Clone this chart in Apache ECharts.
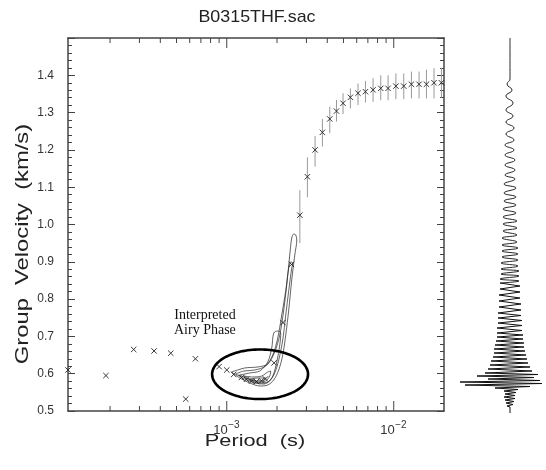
<!DOCTYPE html>
<html><head><meta charset="utf-8">
<script src="https://cdn.jsdelivr.net/npm/echarts@6/dist/echarts.min.js"></script>
<style>html,body{margin:0;padding:0;background:#fff}#c{width:546px;height:470px}</style>
</head><body><div id="c"></div>
<script>
// ---------- text ----------
const titleText = 'B0315THF.sac';
const xAxisName = 'Period  (s)';
const yAxisName = 'Group  Velocity  (km/s)';
const airyLabel = 'Interpreted\nAiry Phase';

// ---------- axes ----------
const periodMin = 1.12e-4, periodMax = 0.02;
const velMin = 0.5, velMax = 1.5, velStep = 0.1;
const xMajorTicks = [1e-3, 1e-2];
const xMajorExponents = ['\u22123', '\u22122'];
const xMinorTicks = [2e-4,3e-4,4e-4,5e-4,6e-4,7e-4,8e-4,9e-4,2e-3,3e-3,4e-3,5e-3,6e-3,7e-3,8e-3,9e-3];

// ---------- dispersion picks ----------
const periods = [1.12e-4,1.89e-4,2.77e-4,3.67e-4,4.62e-4,5.68e-4,6.49e-4,9.0e-4,1.0e-3,1.1e-3,
  1.224e-3,1.312e-3,1.406e-3,1.506e-3,1.614e-3,1.705e-3,1.92e-3,2.17e-3,2.44e-3,2.74e-3,
  3.04e-3,3.38e-3,3.74e-3,4.14e-3,4.54e-3,4.97e-3,5.5e-3,6.11e-3,6.77e-3,7.52e-3,
  8.36e-3,9.25e-3,1.03e-2,1.148e-2,1.276e-2,1.418e-2,1.57e-2,1.743e-2,1.93e-2];
const velocities = [0.61,0.595,0.665,0.661,0.655,0.532,0.640,0.619,0.61,0.598,
  0.590,0.585,0.580,0.579,0.581,0.586,0.629,0.737,0.893,1.025,
  1.128,1.20,1.247,1.283,1.304,1.325,1.341,1.352,1.356,1.361,
  1.365,1.365,1.371,1.371,1.376,1.376,1.376,1.38,1.38];

// ---------- error bars ----------
const errPeriods = [2.74e-3,3.04e-3,3.38e-3,3.74e-3,4.14e-3,4.54e-3,4.97e-3,5.5e-3,6.11e-3,6.77e-3,
  7.52e-3,8.36e-3,9.25e-3,1.03e-2,1.148e-2,1.276e-2,1.418e-2,1.57e-2,1.743e-2,1.93e-2];
const errLow  = [0.95,1.073,1.155,1.209,1.245,1.276,1.296,1.311,1.32,1.327,1.329,1.333,1.333,1.336,1.336,1.338,1.338,1.338,1.338,1.34];
const errHigh = [1.092,1.18,1.237,1.283,1.316,1.334,1.352,1.365,1.378,1.385,1.392,1.40,1.40,1.405,1.405,1.41,1.41,1.415,1.419,1.42];

// ---------- contours [period, velocity] ----------
const contour1 = [[1.071e-3,0.6046],[1.196e-3,0.5885],[1.373e-3,0.5751],[1.576e-3,0.5670],[1.760e-3,0.5697],
  [1.911e-3,0.5831],[2.048e-3,0.6099],[2.164e-3,0.6501],[2.256e-3,0.7038],[2.351e-3,0.7708],[2.450e-3,0.8512],
  [2.554e-3,0.9182],[2.626e-3,0.9584],[2.590e-3,0.9718],[2.519e-3,0.9745],[2.450e-3,0.9638],[2.384e-3,0.9182],
  [2.287e-3,0.8378],[2.194e-3,0.7708],[2.077e-3,0.7038],[1.938e-3,0.6582],[1.760e-3,0.6260],[1.533e-3,0.6180],
  [1.282e-3,0.6153],[1.071e-3,0.6046]];
const contour2 = [[1.132e-3,0.5992],[1.282e-3,0.5858],[1.472e-3,0.5751],[1.665e-3,0.5724],[1.809e-3,0.5804],
  [1.938e-3,0.6019],[2.048e-3,0.6367],[2.164e-3,0.6903],[2.256e-3,0.7574],[2.351e-3,0.8231],[2.450e-3,0.8834],
  [2.485e-3,0.8968],[2.417e-3,0.8995],[2.351e-3,0.8834],[2.256e-3,0.8231],[2.135e-3,0.7574],[2.020e-3,0.6957],
  [1.886e-3,0.6501],[1.712e-3,0.6206],[1.472e-3,0.6099],[1.264e-3,0.6072],[1.132e-3,0.5992]];
const contour3 = [[1.196e-3,0.5965],[1.373e-3,0.5831],[1.576e-3,0.5751],[1.760e-3,0.5777],[1.886e-3,0.5938],
  [1.993e-3,0.6314],[2.077e-3,0.6769],[2.106e-3,0.7091],[2.020e-3,0.7145],[1.911e-3,0.7091],[1.860e-3,0.6689],
  [1.760e-3,0.6314],[1.576e-3,0.6072],[1.373e-3,0.6019],[1.196e-3,0.5965]];
const contour4 = [[1.264e-3,0.5938],[1.412e-3,0.5831],[1.576e-3,0.5777],[1.712e-3,0.5804],[1.809e-3,0.5938],
  [1.834e-3,0.6072],[1.760e-3,0.6046],[1.621e-3,0.5938],[1.431e-3,0.5912],[1.264e-3,0.5938]];
const contour5 = [[1.373e-3,0.5858],[1.512e-3,0.5804],[1.665e-3,0.5831],[1.712e-3,0.5885],[1.533e-3,0.5885],[1.373e-3,0.5858]];

// ---------- Airy phase annotation ----------
const ellipsePeriods = [0.817e-3, 3.068e-3];   // left, right
const ellipseVelocities = [0.532, 0.665];      // bottom, top
const airyLabelAnchor = [7.4e-4, 0.736];

// ---------- seismogram (time samples, amplitude) ----------
const seisUpperTime = [0,41,46,52,58,65,72,78,84,90,96,102,107,112,117,122,127,132,137,141,146,150,155,159,163,167,171,175,179,183,186,190,193,197,200,204,207,210,213,216,219,222,225,228,231,233,236,238,241,243,245];
const seisUpperAmp  = [0,0,-3,2,-4,3,-4,3,-4,4,-4,4,-5,4,-5,5,-5,5,-5,5,-6,6,-6,6,-6,6,-7,6,-7,7,-7,7,-7,7,-8,7,-8,8,-8,8,-8,8,-9,8,-9,9,-9,9,-10,9,-10];
const seisLowerTime = [245,248,251,254,257,260,263,266,269,272,275,
  277.5,280,282.5,285,287.5,290,292.5,295,
  297,299,301,303,305,307,309,311,313,315,317,319,321,323,325,327,329,331,333,335,
  336.5,338,339.5,341,342.5,344,345.5,347,348.5,350,351.5,353,354.5,356,357.5,359,360.5,362,363.5,365,366.5,368,
  369,375];
const seisLowerAmp  = [-10,10,-10,10,-11,10,-11,11,-11,11,-12,
  11,-12,12,-12,12,-13,12,-13,
  13,-13,13,-14,14,-15,14,-16,15,-16,16,-17,17,-19,18,-20,20,-22,22,-25,
  28,-33,24,-22,30,-50,32,-45,20,-15,8,-6,6,-5,5,-6,5,-5,4,-4,3,-3,
  0,0];

// ================= chart =================
const axisColor = '#444';
const textColor = '#222';
const sans = '"Liberation Sans", Arial, sans-serif';
const chart = echarts.init(document.getElementById('c'), null, {renderer: 'canvas'});

const tickData = xMinorTicks.map(t => [t, 1.0, 0]).concat(xMajorTicks.map(t => [t, 1.0, 1]));
const labelData = xMajorTicks.map((t, i) => [t, 1.0, i]);

function contourSeries(data) {
  return {type: 'line', xAxisIndex: 0, yAxisIndex: 0, data: data, symbol: 'none', smooth: 0.3,
    lineStyle: {color: '#222', width: 0.7}, silent: true, z: 3};
}

const yAxisCommon = {
  type: 'value', gridIndex: 0, min: velMin, max: velMax, interval: velStep,
  axisLine: {show: true, lineStyle: {color: axisColor, width: 1.5}},
  axisTick: {show: true, inside: true, length: 7, lineStyle: {color: axisColor, width: 1}},
  minorTick: {show: true, splitNumber: 5, length: 4, lineStyle: {color: axisColor, width: 1}},
  splitLine: {show: false}, minorSplitLine: {show: false}
};

const option = {
  animation: false,
  backgroundColor: '#fff',
  grid: [
    {left: 68, right: 102, top: 38, bottom: 59},
    {left: 455, right: 0, top: 38, bottom: 57}
  ],
  xAxis: [
    {type: 'log', gridIndex: 0, min: periodMin, max: periodMax,
     axisLine: {show: true, lineStyle: {color: axisColor, width: 1.5}},
     axisTick: {show: false}, axisLabel: {show: false}, splitLine: {show: false}, minorTick: {show: false}},
    {type: 'log', gridIndex: 0, position: 'top', min: periodMin, max: periodMax,
     axisLine: {show: true, lineStyle: {color: axisColor, width: 1.5}},
     axisTick: {show: false}, axisLabel: {show: false}, splitLine: {show: false}, minorTick: {show: false}},
    {type: 'value', gridIndex: 1, min: -55, max: 36, show: false}
  ],
  yAxis: [
    Object.assign({}, yAxisCommon, {
      axisLabel: {show: true, margin: 14, fontSize: 12, color: '#333', fontFamily: sans,
        showMaxLabel: false, formatter: v => v.toFixed(1)}
    }),
    Object.assign({}, yAxisCommon, {position: 'right', axisLabel: {show: false}}),
    {type: 'value', gridIndex: 1, min: 0, max: 375, inverse: true, show: false}
  ],
  graphic: [
    {type: 'text', x: 257, y: 17, scaleX: 1.05, silent: true,
     style: {text: titleText, font: '17px ' + sans, fill: textColor,
             align: 'center', verticalAlign: 'middle', textAlign: 'center', textVerticalAlign: 'middle'}},
    {type: 'text', x: 255, y: 441, scaleX: 1.28, silent: true,
     style: {text: xAxisName, font: '17px ' + sans, fill: textColor,
             align: 'center', verticalAlign: 'middle', textAlign: 'center', textVerticalAlign: 'middle'}},
    {type: 'text', x: 23, y: 244, rotation: Math.PI / 2, scaleX: 1.32, silent: true,
     style: {text: yAxisName, font: '18px ' + sans, fill: textColor,
             align: 'center', verticalAlign: 'middle', textAlign: 'center', textVerticalAlign: 'middle'}}
  ],
  series: [
    // x ticks (bottom and top)
    {type: 'custom', xAxisIndex: 0, yAxisIndex: 0, data: tickData, encode: {x: 0, y: 1},
     clip: false, silent: true, z: 5,
     renderItem: function (params, api) {
       const x = api.coord([api.value(0), api.value(1)])[0];
       const cs = params.coordSys;
       const len = api.value(2) ? 10 : 5;
       const yb = cs.y + cs.height, yt = cs.y;
       const st = {stroke: axisColor, lineWidth: 1};
       return {type: 'group', children: [
         {type: 'line', shape: {x1: x, y1: yb, x2: x, y2: yb - len}, style: st},
         {type: 'line', shape: {x1: x, y1: yt, x2: x, y2: yt + len}, style: st}
       ]};
     }},
    // x tick labels 10^-n
    {type: 'custom', xAxisIndex: 0, yAxisIndex: 0, data: labelData, encode: {x: 0, y: 1},
     clip: false, silent: true, z: 5,
     renderItem: function (params, api) {
       const x = api.coord([api.value(0), api.value(1)])[0];
       const cs = params.coordSys;
       const yb = cs.y + cs.height;
       return {type: 'group', children: [
         {type: 'text', x: x + 1, y: yb + 19,
          style: {text: '10', font: '13px ' + sans, fill: '#333', align: 'right', verticalAlign: 'middle'}},
         {type: 'text', x: x + 1.5, y: yb + 14,
          style: {text: xMajorExponents[api.value(2)], font: '10px ' + sans, fill: '#333', align: 'left', verticalAlign: 'middle'}}
       ]};
     }},
    // error bars
    {type: 'custom', xAxisIndex: 0, yAxisIndex: 0, silent: true, z: 2,
     data: errPeriods.map((t, i) => [t, errLow[i], errHigh[i]]), encode: {x: 0, y: [1, 2]},
     renderItem: function (params, api) {
       const p1 = api.coord([api.value(0), api.value(1)]);
       const p2 = api.coord([api.value(0), api.value(2)]);
       return {type: 'line', shape: {x1: p1[0], y1: p1[1], x2: p2[0], y2: p2[1]},
               style: {stroke: '#999', lineWidth: 1}};
     }},
    contourSeries(contour1), contourSeries(contour2), contourSeries(contour3),
    contourSeries(contour4), contourSeries(contour5),
    // x markers
    {type: 'custom', xAxisIndex: 0, yAxisIndex: 0, silent: true, clip: false, z: 6,
     data: periods.map((t, i) => [t, velocities[i]]), encode: {x: 0, y: 1},
     renderItem: function (params, api) {
       const p = api.coord([api.value(0), api.value(1)]);
       const h = 2.7;
       const st = {stroke: '#222', lineWidth: 0.9};
       return {type: 'group', children: [
         {type: 'line', shape: {x1: p[0] - h, y1: p[1] - h, x2: p[0] + h, y2: p[1] + h}, style: st},
         {type: 'line', shape: {x1: p[0] - h, y1: p[1] + h, x2: p[0] + h, y2: p[1] - h}, style: st}
       ]};
     }},
    // Airy phase ellipse + label
    {type: 'custom', xAxisIndex: 0, yAxisIndex: 0, silent: true, clip: false, z: 7,
     data: [[Math.sqrt(ellipsePeriods[0] * ellipsePeriods[1]), (ellipseVelocities[0] + ellipseVelocities[1]) / 2]],
     encode: {x: 0, y: 1},
     renderItem: function (params, api) {
       const tc = api.value(0), vc = api.value(1);
       const pl = api.coord([ellipsePeriods[0], vc]);
       const pr = api.coord([ellipsePeriods[1], vc]);
       const pb = api.coord([tc, ellipseVelocities[0]]);
       const pt = api.coord([tc, ellipseVelocities[1]]);
       const rx = (pr[0] - pl[0]) / 2, ry = (pb[1] - pt[1]) / 2;
       const cx = (pr[0] + pl[0]) / 2, cy = (pb[1] + pt[1]) / 2;
       const pts = [];
       for (let k = 0; k < 120; k++) {
         const a = k / 120 * Math.PI * 2;
         pts.push([cx + rx * Math.cos(a), cy + ry * Math.sin(a)]);
       }
       const lp = api.coord(airyLabelAnchor);
       return {type: 'group', children: [
         {type: 'polygon', shape: {points: pts}, style: {fill: 'none', stroke: '#000', lineWidth: 2.6}},
         {type: 'text', x: lp[0], y: lp[1],
          style: {text: airyLabel, font: '14px "Liberation Serif", "Times New Roman", serif', fill: '#111',
                  align: 'center', verticalAlign: 'middle', lineHeight: 15}}
       ]};
     }},
    // seismogram
    {type: 'line', xAxisIndex: 2, yAxisIndex: 2, symbol: 'none', smooth: true, silent: true,
     data: seisUpperTime.map((t, i) => [seisUpperAmp[i], t]),
     lineStyle: {color: '#111', width: 0.9}},
    {type: 'line', xAxisIndex: 2, yAxisIndex: 2, symbol: 'none', smooth: false, silent: true,
     data: seisLowerTime.map((t, i) => [seisLowerAmp[i], t]),
     lineStyle: {color: '#111', width: 1.0}}
  ]
};
chart.setOption(option);
</script>
</body></html>
